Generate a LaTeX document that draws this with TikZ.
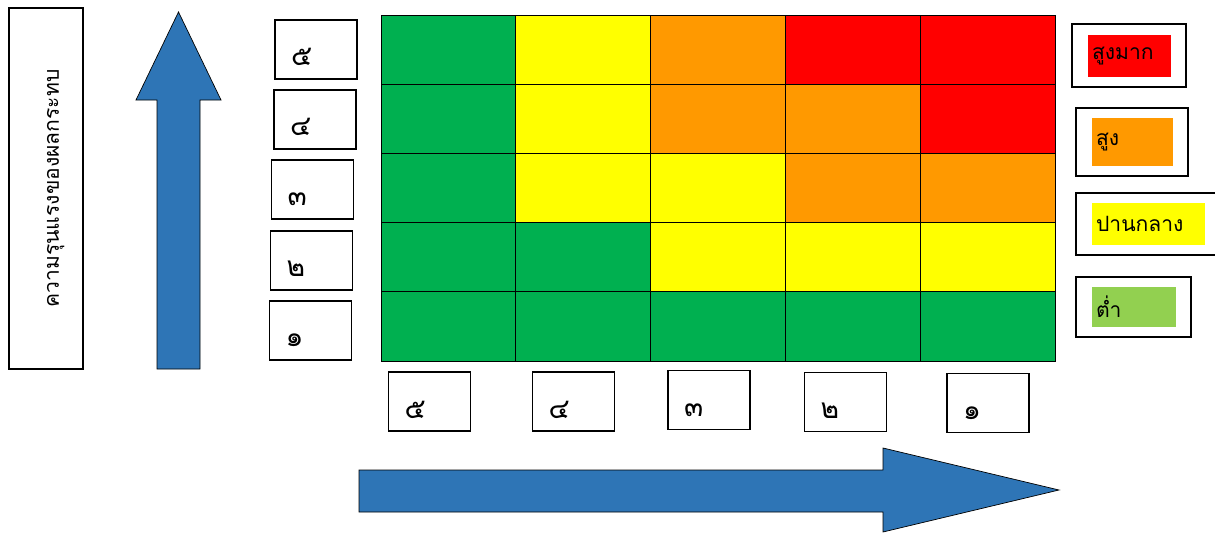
\documentclass[tikz,border=0pt]{standalone}
\usepackage{fontspec}
\newfontfamily\thaifont[Script=Thai]{Loma}
\usetikzlibrary{positioning,calc}
\definecolor{riskGreen}{RGB}{0,176,80}
\definecolor{riskYellow}{RGB}{255,255,0}
\definecolor{riskOrange}{RGB}{255,153,0}
\definecolor{riskRed}{RGB}{255,0,0}
\definecolor{riskLow}{RGB}{146,208,80}
\definecolor{riskArrow}{RGB}{46,117,182}
\tikzset{
  cell/.style={
    draw=black,
    thin,
    minimum width=2.696cm,
    minimum height=1.384cm,
    inner sep=0pt
  },
  numbox/.style={
    draw=black,
    line width=1pt,
    fill=white,
    minimum height=1.18cm,
    text width=1.0cm,
    inner xsep=0.32cm,
    inner ysep=0pt,
    text height=0.7cm,
    text depth=0.04cm,
    align=left,
    font=\thaifont\fontsize{16}{18}\selectfont
  },
  axisbox/.style={
    draw=black,
    line width=1pt,
    fill=white,
    inner sep=0pt,
    text height=0.62cm,
    text depth=0.1cm,
    font=\thaifont\fontsize{12}{14}\selectfont
  },
  legbox/.style={
    draw=black,
    line width=1.2pt,
    fill=white
  },
  legfill/.style={
    inner xsep=0.08cm,
    inner ysep=0pt,
    align=left,
    font=\thaifont\fontsize{12}{14}\selectfont
  },
  bigarrow/.style={
    draw=black,
    thin,
    fill=riskArrow
  }
}

\begin{document}
\begin{tikzpicture}[x=0.02cm,y=-0.02cm]
  \useasboundingbox (0,0) rectangle (1215,534);

  % axis title
  \node[axisbox, rotate=90, minimum width=7.22cm, minimum height=1.48cm] (sevtitle)
    at (46,188.5) {ความรุนแรงของผลกระทบ};

  % arrows
  \draw[bigarrow] (157,369) -- (157,100) -- (136,100) -- (178.5,12)
    -- (221,100) -- (200,100) -- (200,369) -- cycle;
  \draw[bigarrow] (359,470) -- (883,470) -- (883,448) -- (1059,490)
    -- (883,532) -- (883,512) -- (359,512) -- cycle;

  % risk matrix
  \foreach \rowcols [count=\i from 0] in {
      {riskGreen,riskYellow,riskOrange,riskRed,riskRed},
      {riskGreen,riskYellow,riskOrange,riskOrange,riskRed},
      {riskGreen,riskYellow,riskYellow,riskOrange,riskOrange},
      {riskGreen,riskGreen,riskYellow,riskYellow,riskYellow},
      {riskGreen,riskGreen,riskGreen,riskGreen,riskGreen}}
    \foreach \c [count=\j from 0] in \rowcols
      \node[cell, fill=\c] (cell-\i-\j) at (448.4+134.8*\j,49.6+69.2*\i) {};

  % severity levels
  \foreach \d/\x/\y [count=\k] in {๕/316/49.5, ๔/315/119.5, ๓/312.5/189.5,
      ๒/311.5/260.5, ๑/310.5/330.5}
    \node[numbox] (sev\k) at (\x,\y) {\d};

  % likelihood levels
  \foreach \d/\x/\y [count=\k] in {๕/429.5/401.5, ๔/573.5/401.5, ๓/709/400,
      ๒/845.5/402, ๑/988/403}
    \node[numbox] (lik\k) at (\x,\y) {\d};

  % legend
  \node[legbox, minimum width=2.28cm, minimum height=1.26cm] (legVH) at (1129,55.5) {};
  \node[legfill, fill=riskRed, text width=1.50cm, minimum height=0.84cm] (legVHfill)
    at (1129.5,56) {สูงมาก};
  \node[legbox, minimum width=2.24cm, minimum height=1.36cm] (legH) at (1132,142) {};
  \node[legfill, fill=riskOrange, text width=1.46cm, minimum height=0.96cm] (legHfill)
    at (1132.5,142) {สูง};
  \node[legbox, minimum width=2.92cm, minimum height=1.24cm] (legM) at (1149,224) {};
  \node[legfill, fill=riskYellow, text width=2.10cm, minimum height=0.84cm] (legMfill)
    at (1148.5,224) {ปานกลาง};
  \node[legbox, minimum width=2.30cm, minimum height=1.20cm] (legL) at (1133.5,307) {};
  \node[legfill, fill=riskLow, text width=1.52cm, minimum height=0.80cm] (legLfill)
    at (1134,307) {ต่ำ};
\end{tikzpicture}
\end{document}
